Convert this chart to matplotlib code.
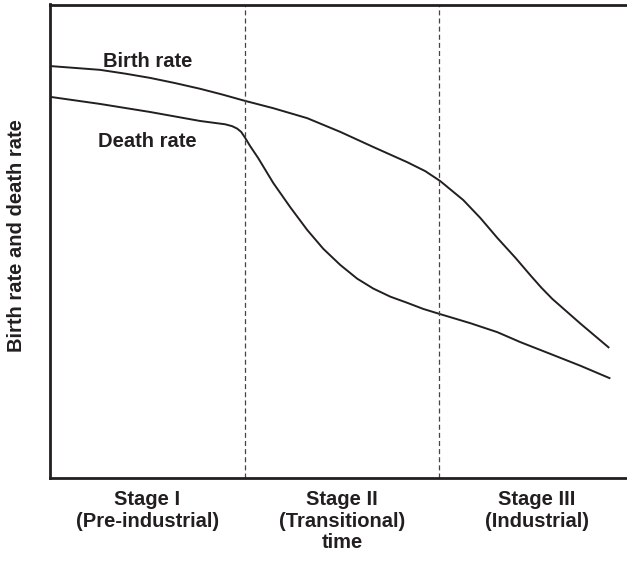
import matplotlib.pyplot as plt

# demographic transition: time measured in stages (each stage = 1 unit),
# rates on an arbitrary 0-100 scale
birth_t = [0.0, 0.129, 0.257, 0.386, 0.514, 0.643, 0.771, 0.884, 0.997,
           1.147, 1.321, 1.491, 1.661, 1.835, 1.928, 2.005, 2.123, 2.211,
           2.298, 2.391, 2.468, 2.524, 2.581, 2.653, 2.725, 2.797, 2.869]
birth_rate = [87.0, 86.6, 86.2, 85.4, 84.5, 83.4, 82.2, 81.0, 79.7,
              78.1, 76.0, 73.1, 69.9, 66.7, 64.8, 62.7, 58.7, 54.9,
              50.7, 46.5, 42.8, 40.2, 37.8, 35.2, 32.6, 30.1, 27.6]

death_t = [0.0, 0.257, 0.514, 0.771, 0.900, 0.936, 0.961, 0.982, 1.003,
           1.028, 1.069, 1.147, 1.234, 1.321, 1.404, 1.491, 1.578, 1.661,
           1.748, 1.835, 1.918, 2.005, 2.159, 2.298, 2.416, 2.571, 2.725,
           2.874]
death_rate = [80.5, 79.0, 77.3, 75.4, 74.7, 74.3, 73.8, 73.1, 71.8,
              70.1, 67.6, 62.3, 57.2, 52.4, 48.4, 45.0, 42.1, 40.0,
              38.3, 37.0, 35.7, 34.6, 32.7, 30.8, 28.7, 26.2, 23.7,
              21.1]

stage_edges = [1.0, 2.0]
stage_labels = ["Stage I\n(Pre-industrial)",
                "Stage II\n(Transitional)\ntime",
                "Stage III\n(Industrial)"]
stage_centers = [0.5, 1.5, 2.5]

ink = "#231f20"
fs = 14.5
plt.rcParams['font.family'] = ['Liberation Sans', 'DejaVu Sans']

fig = plt.figure(figsize=(6.27, 5.68), dpi=100)
ax = fig.add_axes([50 / 627, 90 / 568, 584 / 627, 473.5 / 568])

ax.plot(birth_t, birth_rate, color=ink, lw=1.4, solid_joinstyle='round')
ax.plot(death_t, death_rate, color=ink, lw=1.4, solid_joinstyle='round')

for xe in stage_edges:
    ax.axvline(xe, color="#444444", lw=0.9, linestyle=(0, (4, 2.5)))

ax.text(0.5, 88.0, "Birth rate", ha='center', va='center', fontsize=fs,
        fontweight='bold', color=ink)
ax.text(0.5, 71.0, "Death rate", ha='center', va='center', fontsize=fs,
        fontweight='bold', color=ink)

ax.set_xlim(0, 3)
ax.set_ylim(0, 100)
ax.set_xticks([])
ax.set_yticks([])

for c, lab in zip(stage_centers, stage_labels):
    ax.text(c, -2.6, lab, ha='center', va='top', fontsize=fs,
            fontweight='bold', color=ink, linespacing=1.16)

# axis title placed by hand so it sits close to the left edge
fig.text(17 / 627, 1 - 236 / 568, "Birth rate and death rate", rotation=90,
         ha='center', va='center', fontsize=fs, fontweight='bold', color=ink)

for side in ['left', 'top', 'bottom']:
    ax.spines[side].set_linewidth(2.0)
    ax.spines[side].set_color(ink)
ax.spines['right'].set_visible(False)

fig.savefig("out.png", dpi=100)
